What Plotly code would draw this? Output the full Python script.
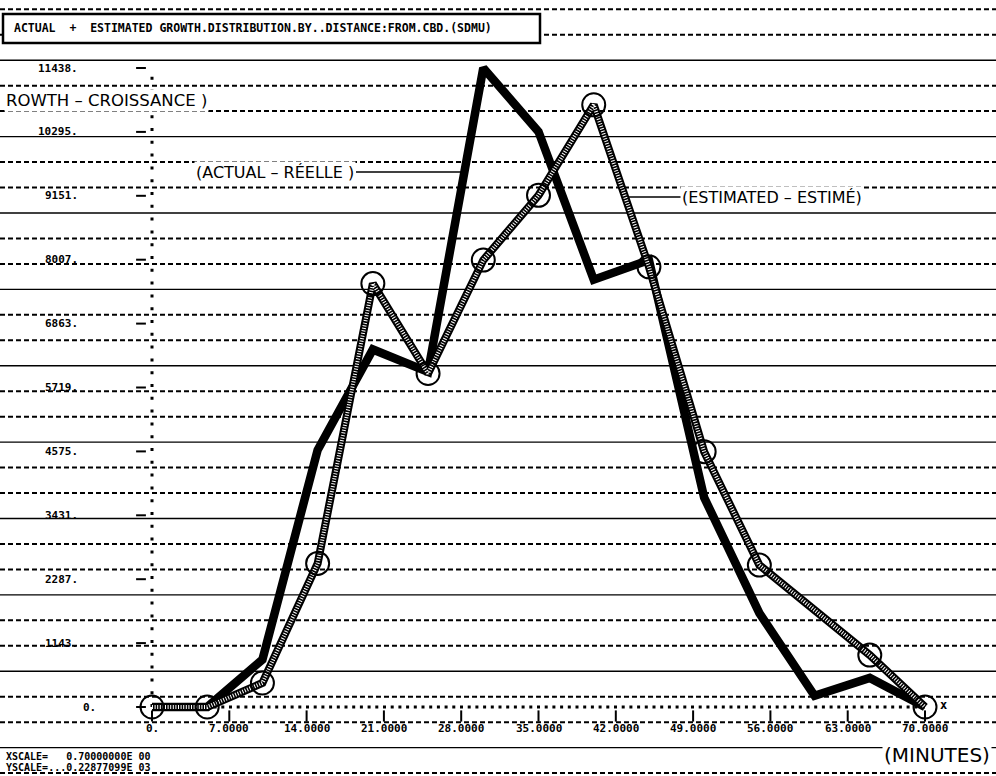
import plotly.graph_objects as go

# ---------------- data ----------------
minutes_actual = [0, 5, 10, 15, 20, 25, 30, 35, 40, 45, 50, 55, 60, 65, 70]
growth_actual = [0, 0, 850, 4600, 6400, 6000, 11438, 10300, 7650, 8000, 3750, 1680, 200, 520, 0]

minutes_estimated = [0, 5, 10, 15, 20, 25, 30, 35, 40, 45, 50, 55, 65, 70]
growth_estimated = [0, 0, 430, 2570, 7580, 5970, 8000, 9160, 10780, 7880, 4570, 2540, 930, 0]

y_tick_values = [0, 1143.85, 2287.7, 3431.55, 4575.4, 5719.25, 6863.1, 8006.95, 9150.8, 10294.65, 11438.5]
y_tick_labels = ["0.", "1143.", "2287.", "3431.", "4575.", "5719.", "6863.", "8007.", "9151.", "10295.", "11438."]
x_tick_values = [0, 7, 14, 21, 28, 35, 42, 49, 56, 63, 70]
x_tick_labels = ["0.", "7.0000", "14.0000", "21.0000", "28.0000", "35.0000",
                 "42.0000", "49.0000", "56.0000", "63.0000", "70.0000"]

title_text = "ACTUAL  +  ESTIMATED GROWTH.DISTRIBUTION.BY..DISTANCE:FROM.CBD.(SDMU)"
xscale_text = "XSCALE=   0.70000000E 00"
yscale_text = "YSCALE=...0.22877099E 03"

# ---------------- geometry (pixel mapping of the page) ----------------
W, H = 996, 776
X0PX, XPXPU = 152.0, 11.043      # px of x=0, px per minute
Y0PX, YPXPU = 707.0, 0.055864    # px of y=0, px per unit

xr = [-X0PX / XPXPU, (W - X0PX) / XPXPU]
yr = [-(H - Y0PX) / YPXPU, Y0PX / YPXPU]


def px(xp):
    return xp / W


def py(yp):
    return 1 - yp / H


def yval(yp):
    return (Y0PX - yp) / YPXPU


def xval(xp):
    return (xp - X0PX) / XPXPU


MONO = "DejaVu Sans Mono"
HAND = "DejaVu Sans"

fig = go.Figure()

# actual : heavy solid line
fig.add_trace(go.Scatter(x=minutes_actual, y=growth_actual, mode="lines",
                         line=dict(color="black", width=8.5), hoverinfo="skip"))
# estimated : ladder-like line
fig.add_trace(go.Scatter(x=minutes_estimated, y=growth_estimated, mode="lines",
                         line=dict(color="black", width=8), hoverinfo="skip"))
fig.add_trace(go.Scatter(x=minutes_estimated, y=growth_estimated, mode="lines",
                         line=dict(color="white", width=4, dash="1px,1.6px"), hoverinfo="skip"))
fig.add_trace(go.Scatter(x=minutes_estimated, y=growth_estimated, mode="markers",
                         marker=dict(symbol="circle-open", size=23, color="black",
                                     line=dict(width=2, color="black")),
                         hoverinfo="skip"))

# y tick marks "-"
fig.add_trace(go.Scatter(x=[xval(141)] * len(y_tick_values), y=y_tick_values, mode="markers",
                         marker=dict(symbol="line-ew", size=7, line=dict(width=2, color="black")),
                         hoverinfo="skip"))
# x tick marks
fig.add_trace(go.Scatter(x=x_tick_values, y=[yval(716)] * len(x_tick_values), mode="markers",
                         marker=dict(symbol="line-ns", size=8, line=dict(width=2, color="black")),
                         hoverinfo="skip"))

shapes = []
# paper ruling lines: every 2 printer rows, every third solid
for k in range(-3, 28):
    ypix = 696.7 - 25.46 * k
    solid = (k % 3 == 1)
    shapes.append(dict(type="line", xref="paper", yref="paper", x0=0, x1=1,
                       y0=py(ypix), y1=py(ypix), layer="below",
                       line=dict(color="black", width=1.4 if solid else 2,
                                 dash="solid" if solid else "5px,3px")))
# dotted y axis column
shapes.append(dict(type="line", xref="x", yref="y", x0=0, x1=0, y0=0, y1=11438.5,
                   layer="below", line=dict(color="black", width=3, dash="3px,9.8px")))
# dotted x axis row
shapes.append(dict(type="line", xref="x", yref="y", x0=0, x1=70, y0=0, y1=0,
                   layer="below", line=dict(color="black", width=3, dash="3px,4.7px")))
# title box
shapes.append(dict(type="rect", xref="paper", yref="paper", x0=px(3), x1=px(540),
                   y0=py(43), y1=py(14), fillcolor="white",
                   line=dict(color="black", width=2.5)))
# leader lines
shapes.append(dict(type="line", xref="paper", yref="paper", x0=px(356), x1=px(462),
                   y0=py(172), y1=py(172), line=dict(color="black", width=1.5)))
shapes.append(dict(type="line", xref="paper", yref="paper", x0=px(628), x1=px(684),
                   y0=py(197), y1=py(197), line=dict(color="black", width=1.5)))

annotations = []
for v, t in zip(y_tick_values, y_tick_labels):
    xa = 98 if t == "0." else 80
    annotations.append(dict(x=px(xa), xref="paper", y=v, yref="y", text=t, showarrow=False,
                            xanchor="right", yanchor="middle",
                            font=dict(family=MONO, size=11, color="black", weight="bold")))
for v, t in zip(x_tick_values, x_tick_labels):
    annotations.append(dict(x=v, xref="x", y=py(728), yref="paper", text=t, showarrow=False,
                            xanchor="center", yanchor="middle",
                            font=dict(family=MONO, size=11, color="black", weight="bold")))

annotations += [
    dict(x=px(12), y=py(28), xref="paper", yref="paper", text=title_text, showarrow=False,
         xanchor="left", yanchor="middle",
         font=dict(family=MONO, size=11.5, color="black", weight="bold")),
    dict(x=px(4), y=py(756), xref="paper", yref="paper", text=xscale_text, showarrow=False,
         xanchor="left", yanchor="middle",
         font=dict(family=MONO, size=10, color="black", weight="bold")),
    dict(x=px(4), y=py(767), xref="paper", yref="paper", text=yscale_text, showarrow=False,
         xanchor="left", yanchor="middle",
         font=dict(family=MONO, size=10, color="black", weight="bold")),
    dict(x=px(943), y=py(705), xref="paper", yref="paper", text="x", showarrow=False,
         xanchor="center", yanchor="middle",
         font=dict(family=MONO, size=12, color="black", weight="bold")),
    dict(x=px(4), y=py(101), xref="paper", yref="paper", text="ROWTH – CROISSANCE )",
         showarrow=False, xanchor="left", yanchor="middle", bgcolor="white",
         font=dict(family=HAND, size=16.5, color="black")),
    dict(x=px(194), y=py(172), xref="paper", yref="paper", text="(ACTUAL – RÉELLE )",
         showarrow=False, xanchor="left", yanchor="middle", bgcolor="white",
         font=dict(family=HAND, size=16, color="black")),
    dict(x=px(680), y=py(197), xref="paper", yref="paper", text="(ESTIMATED – ESTIMÉ)",
         showarrow=False, xanchor="left", yanchor="middle", bgcolor="white",
         font=dict(family=HAND, size=16, color="black")),
    dict(x=px(992), y=py(755), xref="paper", yref="paper", text="(MINUTES)",
         showarrow=False, xanchor="right", yanchor="middle", bgcolor="white",
         font=dict(family=HAND, size=20, color="black")),
]

fig.update_layout(
    width=W, height=H,
    margin=dict(l=0, r=0, t=0, b=0),
    paper_bgcolor="white", plot_bgcolor="white",
    showlegend=False,
    xaxis=dict(range=xr, visible=False, fixedrange=True),
    yaxis=dict(range=yr, visible=False, fixedrange=True),
    shapes=shapes,
    annotations=annotations,
)

fig.write_html("out.html", post_script="document.body.style.margin='0';",
               config={"displayModeBar": False})
